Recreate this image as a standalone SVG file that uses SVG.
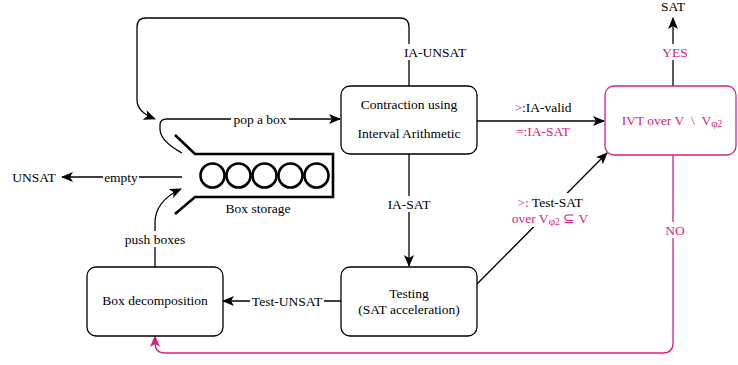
<svg xmlns="http://www.w3.org/2000/svg" width="738" height="365" viewBox="0 0 738 365">
<style>
text{font-family:"Liberation Serif","Times New Roman",serif;font-size:13.5px;fill:#000;text-anchor:middle;dominant-baseline:central}
.pk{fill:#d4237b}
.box{fill:#fff;stroke:#000;stroke-width:1.3}
.pbox{fill:#fff;stroke:#d4237b;stroke-width:1.3}
.ln{fill:none;stroke:#000;stroke-width:1.3}
.pln{fill:none;stroke:#d4237b;stroke-width:1.3}
.bg{fill:#fff}
.st{fill:none;stroke:#000;stroke-width:2.6}
</style>
<defs>
<marker id="ah" markerWidth="12" markerHeight="10" refX="11" refY="5" orient="auto" markerUnits="userSpaceOnUse">
<path d="M0,0 L12,5 L0,10 L3,5 z" fill="#000"/>
</marker>
<marker id="ahp" markerWidth="12" markerHeight="10" refX="11" refY="5" orient="auto" markerUnits="userSpaceOnUse">
<path d="M0,0 L12,5 L0,10 L3,5 z" fill="#d4237b"/>
</marker>
</defs>
<g id="connectors">
<path class="ln" d="M409,86 V27 Q409,18 400,18 H146 Q137,18 137,27 V100 Q137,112 155,119" marker-end="url(#ah)"/>
<path class="ln" d="M182,153 Q160,141 160,129 V125 Q160,119 167,119 H340" marker-end="url(#ah)"/>
<path class="ln" d="M182,177 H62" marker-end="url(#ah)"/>
<path class="ln" d="M155,267 V223 Q155,201 181,189" marker-end="url(#ah)"/>
<path class="ln" d="M409,154 V266" marker-end="url(#ah)"/>
<path class="ln" d="M341,301 H223" marker-end="url(#ah)"/>
<path class="ln" d="M477,121 H604" marker-end="url(#ah)"/>
<path class="ln" d="M477,284 L607,153" marker-end="url(#ah)"/>
<path class="ln" d="M673,86 V18" marker-end="url(#ah)"/>
<path class="pln" d="M673,155 V343 Q673,353 663,353 H165 Q155,353 155,343 V336" marker-end="url(#ahp)"/>
<rect class="bg" x="401" y="44" width="68" height="16"/>
<text x="435" y="52">IA-UNSAT</text>
<rect class="bg" x="231" y="111" width="58" height="16"/>
<text x="260" y="119">pop a box</text>
<rect class="bg" x="103" y="169" width="36" height="16"/>
<text x="121" y="177">empty</text>
<rect class="bg" x="123" y="231" width="64" height="16"/>
<text x="155" y="239">push boxes</text>
<rect class="bg" x="386" y="196" width="46" height="16"/>
<text x="409" y="204">IA-SAT</text>
<rect class="bg" x="250" y="293" width="74" height="16"/>
<text x="287" y="301">Test-UNSAT</text>
<text x="543" y="107"><tspan class="pk">&gt;</tspan>:IA-valid</text>
<text x="543" y="131" class="pk">=:IA-SAT</text>
<rect class="bg" x="506" y="193" width="90" height="34"/>
<text x="550" y="202"><tspan class="pk">&gt;:</tspan> Test-SAT</text>
<text x="550" y="218" class="pk">over V<tspan font-size="11" dy="3">φ</tspan><tspan font-size="9.5" dy="1">2</tspan><tspan dy="-4">&#160;⊆&#160;V</tspan></text>
<rect class="bg" x="660" y="44" width="30" height="16"/>
<text x="675" y="52" class="pk">YES</text>
<rect class="bg" x="662" y="222" width="26" height="16"/>
<text x="675" y="230" class="pk">NO</text>
</g>
<g id="contraction">
<rect class="box" x="341" y="86" width="136" height="68" rx="9"/>
<text x="409" y="104">Contraction using</text>
<text x="409" y="133">Interval Arithmetic</text>
</g>
<g id="testing">
<rect class="box" x="341" y="267" width="136" height="69" rx="9"/>
<text x="409" y="293">Testing</text>
<text x="409" y="309">(SAT acceleration)</text>
</g>
<g id="decomposition">
<rect class="box" x="87" y="267" width="136" height="69" rx="9"/>
<text x="155" y="300">Box decomposition</text>
</g>
<g id="ivt">
<rect class="pbox" x="605" y="86" width="131" height="69" rx="9"/>
<text x="672" y="120" class="pk">IVT over V&#160;&#160;\&#160;&#160;V<tspan font-size="11" dy="3">φ</tspan><tspan font-size="9.5" dy="1">2</tspan></text>
</g>
<g id="storage">
<polyline class="st" points="175,135 195,154 333,154 333,197 195,197 175,214"/>
<circle class="st" cx="212.5" cy="175.5" r="12" stroke-width="2"/>
<circle class="st" cx="238.5" cy="175.5" r="12" stroke-width="2"/>
<circle class="st" cx="264.5" cy="175.5" r="12" stroke-width="2"/>
<circle class="st" cx="290.5" cy="175.5" r="12" stroke-width="2"/>
<circle class="st" cx="316.5" cy="175.5" r="12" stroke-width="2"/>
<text x="258" y="208">Box storage</text>
</g>
<g id="unsat"><text x="34" y="177">UNSAT</text></g>
<g id="sat"><text x="673" y="6">SAT</text></g>
</svg>
